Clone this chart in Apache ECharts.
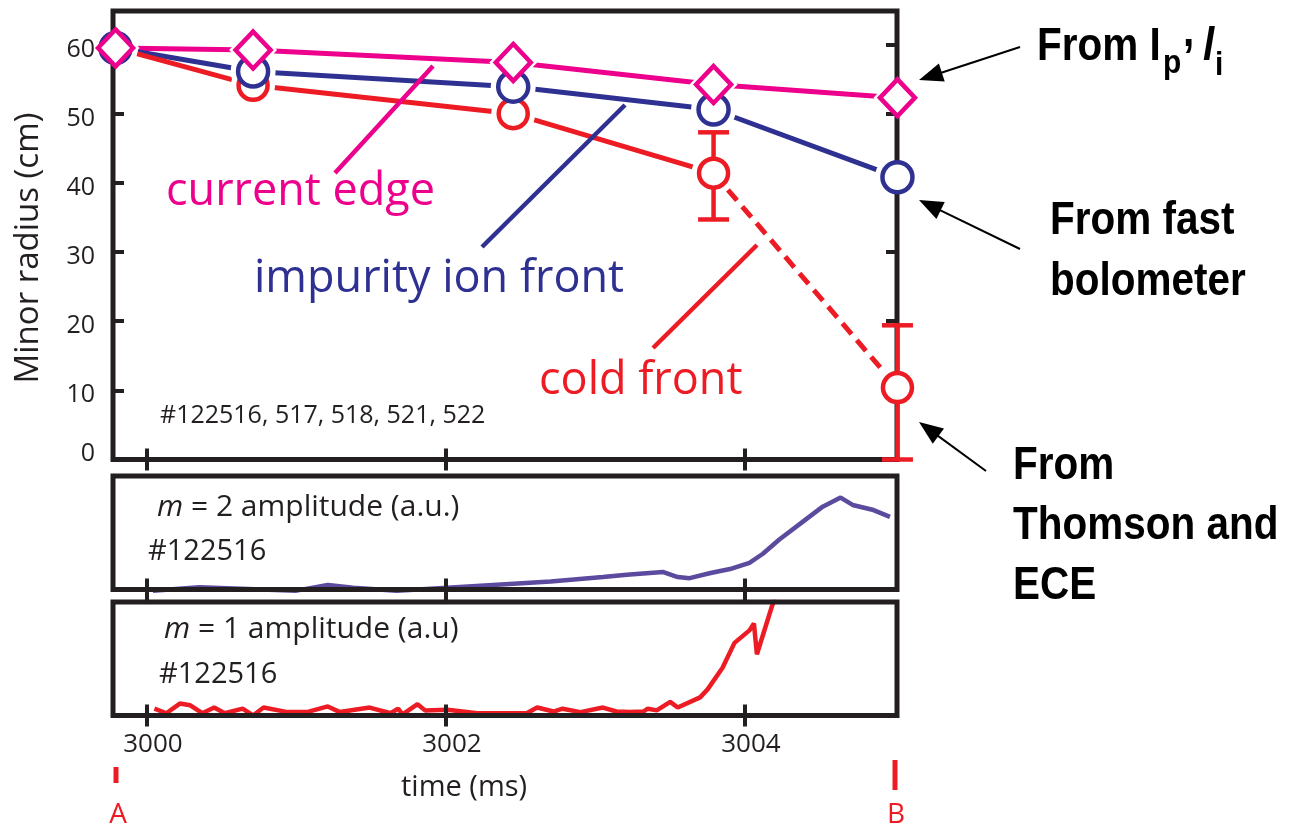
<!DOCTYPE html>
<html>
<head>
<meta charset="utf-8">
<script src="https://cdn.jsdelivr.net/npm/echarts@6/dist/echarts.min.js"></script>
<style>
  html, body { margin: 0; padding: 0; background: #fff; }
  #main { width: 1302px; height: 829px; }
</style>
</head>
<body>
<div id="main"></div>
<script>
// ---- measured radii (cm) at the sampled times (ms) ----
const times          = [2999.79, 3000.71, 3002.45, 3003.79, 3005.02];
const currentEdge    = [59.5, 59.2, 57.4, 54.2, 52.3];
const impurityFront  = [59.5, 56.1, 53.9, 50.6, 40.8];
const coldFront      = [59.5, 54.1, 50.0, 41.4, 10.4];
const coldFrontLow   = [null, null, null, 34.7, 0.0];
const coldFrontHigh  = [null, null, null, 47.3, 19.4];

// ---- tick labels ----
const radiusTicks = [0, 10, 20, 30, 40, 50, 60];
const timeTicks   = [3000, 3002, 3004];

// ---- m = 2 mode amplitude, shot 122516 (a.u.) ----
const m2Time = [3000.04, 3000.35, 3001.00, 3001.21, 3001.38, 3001.67, 3002.01, 3002.70, 3003.05,
                3003.21, 3003.45, 3003.55, 3003.63, 3003.77, 3003.90, 3004.03, 3004.12, 3004.23,
                3004.39, 3004.52, 3004.64, 3004.72, 3004.86, 3004.97];
const m2Amp  = [-0.01, 0.02, -0.01, 0.04, 0.015, -0.01, 0.015, 0.07, 0.11,
                0.13, 0.155, 0.11, 0.10, 0.145, 0.18, 0.235, 0.315, 0.44,
                0.60, 0.73, 0.81, 0.745, 0.70, 0.64];

// ---- m = 1 mode amplitude, shot 122516 (a.u.) ----
const m1Time = [3000.05, 3000.13, 3000.22, 3000.29, 3000.37, 3000.45, 3000.52, 3000.64, 3000.71,
                3000.78, 3000.94, 3001.07, 3001.21, 3001.29, 3001.49, 3001.63, 3001.68, 3001.71,
                3001.81, 3001.86, 3002.01, 3002.21, 3002.54, 3002.61, 3002.72, 3002.78, 3002.90,
                3003.05, 3003.14, 3003.23, 3003.32, 3003.35, 3003.41, 3003.50, 3003.55, 3003.70,
                3003.75, 3003.85, 3003.93, 3004.03, 3004.06, 3004.08, 3004.18, 3004.20];
const m1Amp  = [0.06, 0.02, 0.105, 0.09, 0.02, 0.07, 0.02, 0.06, 0.0,
                0.07, 0.03, 0.03, 0.08, 0.03, 0.07, 0.02, 0.06, 0.01,
                0.10, 0.045, 0.05, 0.02, 0.02, 0.07, 0.035, 0.06, 0.03,
                0.07, 0.035, 0.03, 0.035, 0.06, 0.045, 0.12, 0.07, 0.16,
                0.23, 0.42, 0.64, 0.75, 0.81, 0.54, 0.96, 1.03];

// ---- styling ----
const MAGENTA = '#EC008C', NAVY = '#2E3192', RED = '#ED1C24', PURPLE = '#5B4A9E', INK = '#231F20';
const SANS = "'Open Sans', 'Noto Sans', sans-serif";
const BOLD = "'Liberation Sans', Arial, sans-serif";
const T_MIN = 2999.773, T_MAX = 3005.017, R_MAX = 64.84;

const zip = (xs, ys) => xs.map((x, i) => [x, ys[i]]);
const edgePts = zip(times, currentEdge);
const impPts  = zip(times, impurityFront);
const coldPts = zip(times, coldFront);
const errPts  = times.map((t, i) => coldFrontLow[i] == null ? null : [t, coldFrontLow[i], coldFrontHigh[i]])
                     .filter(Boolean);

const chart = echarts.init(document.getElementById('main'), null, { renderer: 'canvas' });

const gridBase = { left: 113, width: 784, show: true, borderColor: INK, borderWidth: 5,
                   backgroundColor: 'transparent', z: 3 };

function xAxis(grid, position, withLabels) {
  return {
    type: 'value', gridIndex: grid, position: position, min: T_MIN, max: T_MAX, z: 3,
    axisLine: { show: false },
    splitLine: { show: false },
    axisTick: { show: true, inside: true, length: 11, customValues: timeTicks,
                lineStyle: { color: INK, width: 4 } },
    axisLabel: withLabels ? {
      show: true, customValues: timeTicks, margin: 16, color: INK, fontFamily: SANS, fontSize: 26,
      padding: [0, 0, 0, 12], formatter: v => String(Math.round(v))
    } : { show: false }
  };
}

function hiddenY(grid, min, max) {
  return { type: 'value', gridIndex: grid, min: min, max: max,
           axisLine: { show: false }, axisTick: { show: false },
           axisLabel: { show: false }, splitLine: { show: false } };
}

const lineSeries = (data, color, extra) => Object.assign({
  type: 'line', xAxisIndex: 0, yAxisIndex: 0, data: data, showSymbol: false, z: 1,
  lineStyle: { color: color, width: 5 }, silent: true, animation: false
}, extra || {});

const markerSeries = (data, symbol, size, color, z) => ({
  type: 'scatter', xAxisIndex: 0, yAxisIndex: 0, data: data, symbol: symbol, symbolSize: size,
  itemStyle: { color: '#fff', borderColor: color, borderWidth: 4.5, opacity: 1 },
  z: z, silent: true, animation: false, clip: false
});

const haloSeries = (data, symbol, size) => ({
  type: 'scatter', xAxisIndex: 0, yAxisIndex: 0, data: data, symbol: symbol, symbolSize: size,
  itemStyle: { color: '#fff', opacity: 1 }, z: 2, silent: true, animation: false, clip: false
});

const series = [
  lineSeries(edgePts, MAGENTA),
  lineSeries(impPts, NAVY),
  lineSeries(coldPts.slice(0, 4), RED),
  lineSeries(coldPts.slice(3), RED, { lineStyle: { color: RED, width: 5, type: [14, 8] } }),
  haloSeries(coldPts, 'circle', 44),
  haloSeries(impPts, 'circle', 45),
  haloSeries(edgePts, 'diamond', [48, 50]),
  {
    type: 'custom', xAxisIndex: 0, yAxisIndex: 0, data: errPts, z: 4, clip: false,
    silent: true, animation: false, encode: { x: 0, y: [1, 2] },
    renderItem: function (params, api) {
      const lo = api.coord([api.value(0), api.value(1)]);
      const hi = api.coord([api.value(0), api.value(2)]);
      const cap = 15.5;
      const style = { stroke: RED, lineWidth: 4.5, fill: null };
      return {
        type: 'group',
        children: [
          { type: 'line', shape: { x1: lo[0], y1: lo[1], x2: hi[0], y2: hi[1] }, style: style },
          { type: 'line', shape: { x1: lo[0] - cap, y1: lo[1], x2: lo[0] + cap, y2: lo[1] }, style: style },
          { type: 'line', shape: { x1: hi[0] - cap, y1: hi[1], x2: hi[0] + cap, y2: hi[1] }, style: style }
        ]
      };
    }
  },
  markerSeries(coldPts, 'circle', 29, RED, 5),
  markerSeries(impPts, 'circle', 30, NAVY, 6),
  markerSeries(edgePts, 'diamond', [35, 37], MAGENTA, 7),
  {
    type: 'line', xAxisIndex: 2, yAxisIndex: 2, data: zip(m2Time, m2Amp), showSymbol: false,
    lineStyle: { color: PURPLE, width: 4.5 }, clip: false, z: 1, silent: true, animation: false
  },
  {
    type: 'line', xAxisIndex: 4, yAxisIndex: 4, data: zip(m1Time, m1Amp), showSymbol: false,
    lineStyle: { color: RED, width: 4.5 }, clip: true, z: 1, silent: true, animation: false
  }
];

// ---- annotation helpers (pixel space) ----
function txt(text, x, baseline, size, color, extra) {
  const e = Object.assign({ family: SANS, weight: 'normal', align: 'left', scaleX: 1, k: 0.36 }, extra || {});
  return {
    type: 'text', x: x, y: baseline - e.k * size, scaleX: e.scaleX, z: 10, silent: true,
    style: Object.assign({
      text: text, fill: color, fontFamily: e.family, fontSize: size, fontWeight: e.weight,
      fontStyle: e.italic ? 'italic' : 'normal', align: e.align, verticalAlign: 'middle'
    }, e.rich ? { rich: e.rich } : {})
  };
}
function seg(x1, y1, x2, y2, color, w) {
  return { type: 'line', z: 10, silent: true, shape: { x1, y1, x2, y2 },
           style: { stroke: color, lineWidth: w, lineCap: 'butt' } };
}
function arrow(x1, y1, x2, y2) {
  const dx = x2 - x1, dy = y2 - y1, L = Math.hypot(dx, dy), ux = dx / L, uy = dy / L;
  const hl = 24, hw = 9.5, bx = x2 - ux * hl, by = y2 - uy * hl;
  return [
    seg(x1, y1, bx + ux * 3, by + uy * 3, '#000', 2),
    { type: 'polygon', z: 10, silent: true,
      shape: { points: [[x2, y2], [bx - uy * hw, by + ux * hw], [bx + uy * hw, by - ux * hw]] },
      style: { fill: '#000' } }
  ];
}

const italicM = { i: { fontStyle: 'italic', fontFamily: SANS, fontSize: 30, fill: INK } };
const B = { family: BOLD, weight: 'bold', scaleX: 0.88, k: 0.34 };

const graphics = [
  // pointer lines to the three traces
  seg(335, 173, 433, 66, MAGENTA, 4.5),
  seg(482, 247, 625, 105, NAVY, 4.5),
  seg(653, 348, 757, 245, RED, 4.5),
  txt('current edge', 166, 208, 45, MAGENTA),
  txt('impurity ion front', 254, 295, 45, NAVY),
  txt('cold front', 539, 397, 45, RED),
  txt('#122516, 517, 518, 521, 522', 160, 425, 25, INK),
  txt('{i|m} = 2 amplitude (a.u.)', 157, 518, 30, INK, { rich: italicM }),
  txt('#122516', 148, 562, 29, INK),
  txt('{i|m} = 1 amplitude (a.u)', 164, 640, 30, INK, { rich: italicM }),
  txt('#122516', 159, 685, 29, INK),
  txt('time (ms)', 401, 798, 29, INK),
  {
    type: 'text', x: 29, y: 248, rotation: Math.PI / 2, z: 10, silent: true,
    style: { text: 'Minor radius (cm)', fill: INK, fontFamily: SANS, fontSize: 33,
             align: 'center', verticalAlign: 'middle' }
  },
  // time markers A and B
  seg(116, 767, 116, 783, RED, 5),
  txt('A', 118, 825, 28, RED, { align: 'center' }),
  seg(895, 760, 895, 790, RED, 5),
  txt('B', 896, 825, 28, RED, { align: 'center' }),
  // source annotations
  txt('From I', 1037, 63, 46, '#000', B),
  txt('p', 1163, 75, 34, '#000', B),
  txt(',', 1183, 49, 46, '#000', B),
  txt('l', 1203, 63, 46, '#000', Object.assign({ italic: true }, B)),
  txt('i', 1215, 77, 34, '#000', B),
  txt('From fast', 1050, 237, 46, '#000', B),
  txt('bolometer', 1050, 298, 46, '#000', B),
  txt('From', 1013, 482, 46, '#000', B),
  txt('Thomson and', 1013, 542, 46, '#000', B),
  txt('ECE', 1013, 602, 46, '#000', B)
].concat(arrow(1020, 47, 919, 80), arrow(1020, 249, 919, 200), arrow(986, 471, 919, 422));

const option = {
  animation: false,
  backgroundColor: '#fff',
  grid: [
    Object.assign({ top: 11, height: 448.5 }, gridBase),
    Object.assign({ top: 476, height: 113.5 }, gridBase),
    Object.assign({ top: 602, height: 113.5 }, gridBase)
  ],
  xAxis: [
    xAxis(0, 'bottom', false), xAxis(0, 'top', false),
    xAxis(1, 'bottom', false), xAxis(1, 'top', false),
    xAxis(2, 'bottom', true),  xAxis(2, 'top', false)
  ],
  yAxis: [
    {
      type: 'value', gridIndex: 0, position: 'left', min: 0, max: R_MAX, z: 3,
      axisLine: { show: false }, splitLine: { show: false },
      axisTick: { show: true, inside: true, length: 11, customValues: radiusTicks,
                  lineStyle: { color: INK, width: 4 } },
      axisLabel: {
        show: true, customValues: radiusTicks, margin: 18, color: INK, fontFamily: SANS, fontSize: 25,
        formatter: v => v === 0 ? '{z|0}' : '{n|' + Math.round(v) + '}',
        rich: {
          n: { padding: [10, 0, 0, 0], fontFamily: SANS, fontSize: 25, color: INK },
          z: { padding: [0, 0, 12, 0], fontFamily: SANS, fontSize: 25, color: INK }
        }
      }
    },
    {
      type: 'value', gridIndex: 0, position: 'right', min: 0, max: R_MAX, z: 3,
      axisLine: { show: false }, splitLine: { show: false },
      axisTick: { show: true, inside: true, length: 11, customValues: radiusTicks,
                  lineStyle: { color: INK, width: 4 } },
      axisLabel: { show: false }
    },
    hiddenY(1, 0, 1), hiddenY(1, 0, 1),
    hiddenY(2, 0, 1), hiddenY(2, 0, 1)
  ],
  series: series,
  graphic: { elements: graphics }
};

chart.setOption(option);
</script>
</body>
</html>
